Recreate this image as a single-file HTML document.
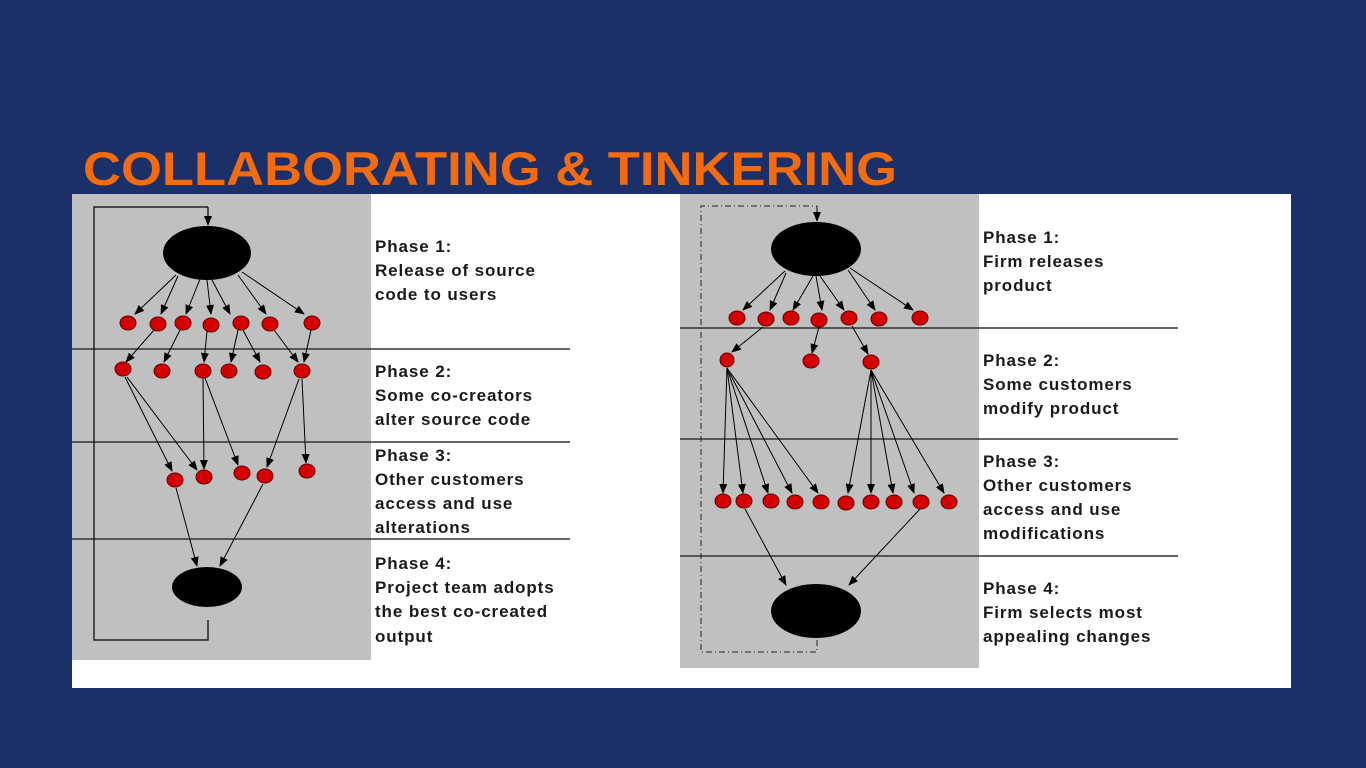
<!DOCTYPE html>
<html><head><meta charset="utf-8"><style>
html,body{margin:0;padding:0;background:#1b2f68;}
svg{display:block}
text{font-family:"Liberation Sans",Arial,sans-serif;font-weight:bold;}
.t{font-size:17px;fill:#1a1a1a;letter-spacing:0.9px;}
</style></head><body>
<svg width="1366" height="768" viewBox="0 0 1366 768" xmlns="http://www.w3.org/2000/svg">
<defs>
<marker id="a" markerWidth="10" markerHeight="10" refX="9" refY="5" orient="auto" markerUnits="userSpaceOnUse">
<path d="M0,1 L10,5 L0,9 Z" fill="#000"/></marker>
</defs>
<rect width="1366" height="768" fill="#1b2f68"/>
<text x="83" y="185" font-size="47" fill="#f26b0f" textLength="814" lengthAdjust="spacingAndGlyphs">COLLABORATING &amp; TINKERING</text>
<rect x="72" y="194" width="1219" height="494" fill="#fff"/>
<rect x="72" y="194" width="299" height="466" fill="#c0c0c0"/>
<rect x="680" y="194" width="299" height="474" fill="#c0c0c0"/>

<!-- LEFT -->
<g stroke="#333" stroke-width="1.5">
<line x1="72" y1="349" x2="570" y2="349"/>
<line x1="72" y1="442" x2="570" y2="442"/>
<line x1="72" y1="539" x2="570" y2="539"/>
</g>
<g fill="none" stroke="#000" stroke-width="1.2">
<polyline points="208,620 208,640 94,640 94,207 208,207"/>
<line x1="208" y1="207" x2="208" y2="225" marker-end="url(#a)"/>
</g>
<g stroke="#000" stroke-width="1" marker-end="url(#a)">
<line x1="176" y1="275" x2="135" y2="314"/>
<line x1="178" y1="276" x2="161" y2="314"/>
<line x1="200" y1="279" x2="186" y2="314"/>
<line x1="207" y1="280" x2="211" y2="314"/>
<line x1="212" y1="280" x2="230" y2="314"/>
<line x1="238" y1="275" x2="266" y2="314"/>
<line x1="242" y1="272" x2="304" y2="314"/>
<line x1="154" y1="330" x2="126" y2="362"/>
<line x1="180" y1="330" x2="164" y2="362"/>
<line x1="207" y1="331" x2="204" y2="362"/>
<line x1="238" y1="330" x2="231" y2="362"/>
<line x1="243" y1="330" x2="260" y2="362"/>
<line x1="274" y1="330" x2="298" y2="362"/>
<line x1="311" y1="330" x2="304" y2="362"/>
<line x1="125" y1="377" x2="172" y2="471"/>
<line x1="127" y1="377" x2="197" y2="470"/>
<line x1="203" y1="378" x2="204" y2="469"/>
<line x1="205" y1="378" x2="238" y2="465"/>
<line x1="299" y1="379" x2="267" y2="467"/>
<line x1="302" y1="379" x2="306" y2="463"/>
<line x1="176" y1="488" x2="197" y2="566"/>
<line x1="263" y1="484" x2="220" y2="566"/>
</g>
<g fill="#000">
<ellipse cx="207" cy="253" rx="44" ry="27"/>
<ellipse cx="207" cy="587" rx="35" ry="20"/>
</g>
<g fill="#d40000" stroke="#600" stroke-width="1">
<ellipse cx="128" cy="323" rx="8" ry="7"/><ellipse cx="158" cy="324" rx="8" ry="7"/><ellipse cx="183" cy="323" rx="8" ry="7"/><ellipse cx="211" cy="325" rx="8" ry="7"/><ellipse cx="241" cy="323" rx="8" ry="7"/><ellipse cx="270" cy="324" rx="8" ry="7"/><ellipse cx="312" cy="323" rx="8" ry="7"/>
<ellipse cx="123" cy="369" rx="8" ry="7"/><ellipse cx="162" cy="371" rx="8" ry="7"/><ellipse cx="203" cy="371" rx="8" ry="7"/><ellipse cx="229" cy="371" rx="8" ry="7"/><ellipse cx="263" cy="372" rx="8" ry="7"/><ellipse cx="302" cy="371" rx="8" ry="7"/>
<ellipse cx="175" cy="480" rx="8" ry="7"/><ellipse cx="204" cy="477" rx="8" ry="7"/><ellipse cx="242" cy="473" rx="8" ry="7"/><ellipse cx="265" cy="476" rx="8" ry="7"/><ellipse cx="307" cy="471" rx="8" ry="7"/>
</g>
<text class="t" x="375" y="252">Phase 1:</text>
<text class="t" x="375" y="276">Release of source</text>
<text class="t" x="375" y="300">code to users</text>
<text class="t" x="375" y="377">Phase 2:</text>
<text class="t" x="375" y="401">Some co-creators</text>
<text class="t" x="375" y="425">alter source code</text>
<text class="t" x="375" y="461">Phase 3:</text>
<text class="t" x="375" y="485">Other customers</text>
<text class="t" x="375" y="509">access and use</text>
<text class="t" x="375" y="533">alterations</text>
<text class="t" x="375" y="569">Phase 4:</text>
<text class="t" x="375" y="593">Project team adopts</text>
<text class="t" x="375" y="617">the best co-created</text>
<text class="t" x="375" y="642">output</text>

<!-- RIGHT -->
<g stroke="#333" stroke-width="1.5">
<line x1="680" y1="328" x2="1178" y2="328"/>
<line x1="680" y1="439" x2="1178" y2="439"/>
<line x1="680" y1="556" x2="1178" y2="556"/>
</g>
<g fill="none" stroke="#222" stroke-width="1" stroke-dasharray="6,3,1,3">
<polyline points="817,640 817,652 701,652 701,206 817,206"/>
</g>
<line x1="817" y1="206" x2="817" y2="221" stroke="#000" stroke-width="1" marker-end="url(#a)"/>
<g stroke="#000" stroke-width="1" marker-end="url(#a)">
<line x1="785" y1="271" x2="743" y2="310"/>
<line x1="786" y1="273" x2="770" y2="310"/>
<line x1="813" y1="276" x2="793" y2="310"/>
<line x1="816" y1="276" x2="822" y2="310"/>
<line x1="820" y1="276" x2="844" y2="310"/>
<line x1="848" y1="270" x2="875" y2="310"/>
<line x1="850" y1="268" x2="913" y2="310"/>
<line x1="763" y1="327" x2="732" y2="352"/>
<line x1="819" y1="327" x2="812" y2="353"/>
<line x1="852" y1="326" x2="868" y2="354"/>
<line x1="727" y1="368" x2="723" y2="493"/>
<line x1="727" y1="368" x2="743" y2="493"/>
<line x1="727" y1="368" x2="768" y2="493"/>
<line x1="727" y1="368" x2="792" y2="493"/>
<line x1="727" y1="368" x2="818" y2="493"/>
<line x1="871" y1="370" x2="848" y2="493"/>
<line x1="871" y1="370" x2="871" y2="493"/>
<line x1="871" y1="370" x2="893" y2="493"/>
<line x1="871" y1="370" x2="914" y2="493"/>
<line x1="871" y1="370" x2="944" y2="493"/>
<line x1="745" y1="509" x2="786" y2="585"/>
<line x1="920" y1="509" x2="849" y2="585"/>
</g>
<g fill="#000">
<ellipse cx="816" cy="249" rx="45" ry="27"/>
<ellipse cx="816" cy="611" rx="45" ry="27"/>
</g>
<g fill="#d40000" stroke="#600" stroke-width="1">
<ellipse cx="737" cy="318" rx="8" ry="7"/><ellipse cx="766" cy="319" rx="8" ry="7"/><ellipse cx="791" cy="318" rx="8" ry="7"/><ellipse cx="819" cy="320" rx="8" ry="7"/><ellipse cx="849" cy="318" rx="8" ry="7"/><ellipse cx="879" cy="319" rx="8" ry="7"/><ellipse cx="920" cy="318" rx="8" ry="7"/>
<ellipse cx="727" cy="360" rx="7" ry="7"/><ellipse cx="811" cy="361" rx="8" ry="7"/><ellipse cx="871" cy="362" rx="8" ry="7"/>
<ellipse cx="723" cy="501" rx="8" ry="7"/><ellipse cx="744" cy="501" rx="8" ry="7"/><ellipse cx="771" cy="501" rx="8" ry="7"/><ellipse cx="795" cy="502" rx="8" ry="7"/><ellipse cx="821" cy="502" rx="8" ry="7"/><ellipse cx="846" cy="503" rx="8" ry="7"/><ellipse cx="871" cy="502" rx="8" ry="7"/><ellipse cx="894" cy="502" rx="8" ry="7"/><ellipse cx="921" cy="502" rx="8" ry="7"/><ellipse cx="949" cy="502" rx="8" ry="7"/>
</g>
<text class="t" x="983" y="243">Phase 1:</text>
<text class="t" x="983" y="267">Firm releases</text>
<text class="t" x="983" y="291">product</text>
<text class="t" x="983" y="366">Phase 2:</text>
<text class="t" x="983" y="390">Some customers</text>
<text class="t" x="983" y="414">modify product</text>
<text class="t" x="983" y="467">Phase 3:</text>
<text class="t" x="983" y="491">Other customers</text>
<text class="t" x="983" y="515">access and use</text>
<text class="t" x="983" y="539">modifications</text>
<text class="t" x="983" y="594">Phase 4:</text>
<text class="t" x="983" y="618">Firm selects most</text>
<text class="t" x="983" y="642">appealing changes</text>
</svg>
</body></html>
